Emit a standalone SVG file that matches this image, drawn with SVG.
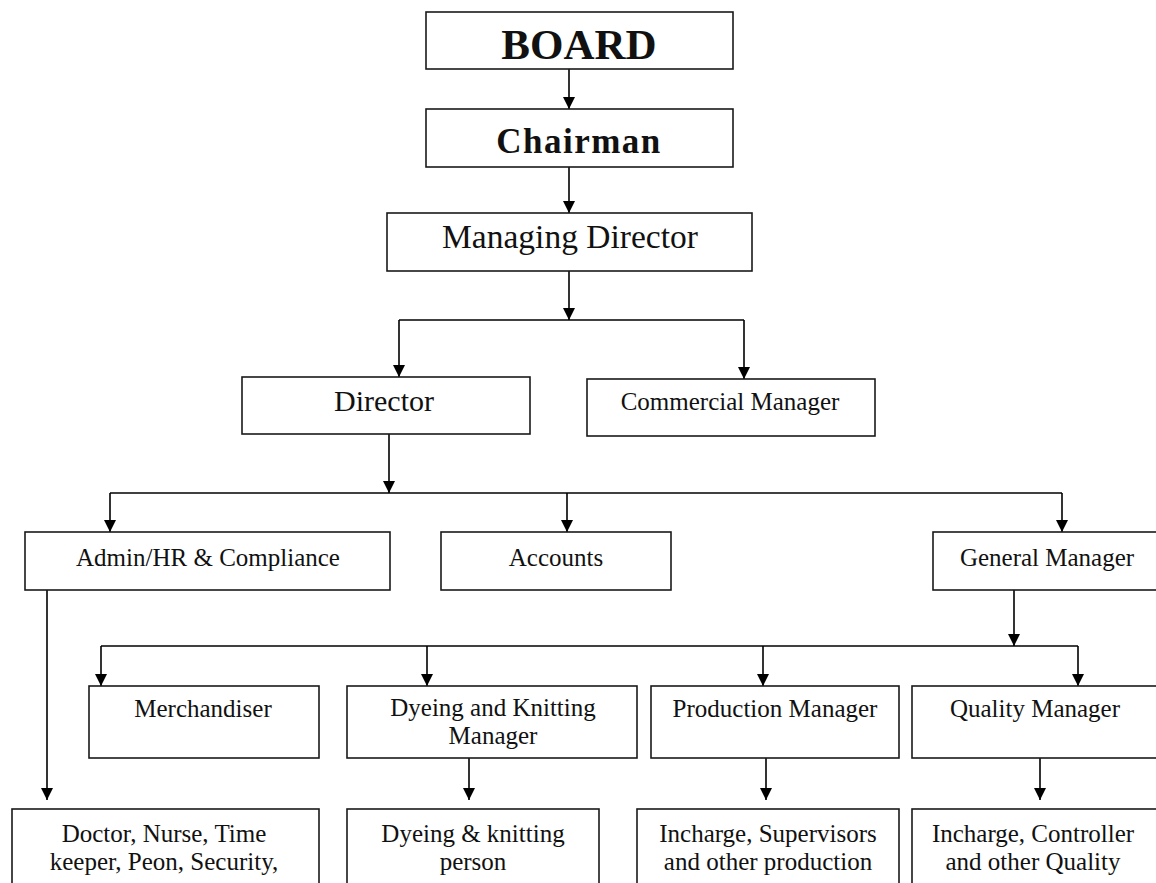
<svg xmlns="http://www.w3.org/2000/svg" width="1156" height="883" viewBox="0 0 1156 883">
<defs>
<marker id="arr" viewBox="0 0 12 12" refX="12" refY="6" markerWidth="12" markerHeight="12" orient="auto" markerUnits="userSpaceOnUse">
<path d="M0,0 L12,6 L0,12 z" fill="#000"/>
</marker>
<style>
.box{fill:#fff;stroke:#1a1a1a;stroke-width:1.6}
.t{font-family:"Liberation Serif","Times New Roman",serif;font-size:25px;fill:#111;text-anchor:middle}
.c{fill:none;stroke:#000;stroke-width:1.6}
.a{marker-end:url(#arr)}
</style>
</defs>
<rect width="1156" height="883" fill="#fff"/>
<g id="connectors">
<path class="c a" d="M569,69 V109"/>
<path class="c a" d="M569,167 V213"/>
<path class="c a" d="M569,271 V320"/>
<path class="c" d="M399,320 H744"/>
<path class="c a" d="M399,320 V377"/>
<path class="c a" d="M744,320 V379"/>
<path class="c a" d="M389,434 V493"/>
<path class="c" d="M110,493 H1062"/>
<path class="c a" d="M110,493 V532"/>
<path class="c a" d="M567,493 V532"/>
<path class="c a" d="M1062,493 V532"/>
<path class="c a" d="M47,590 V800"/>
<path class="c a" d="M1014,590 V646"/>
<path class="c" d="M101,646 H1078"/>
<path class="c a" d="M101,646 V686"/>
<path class="c a" d="M427,646 V686"/>
<path class="c a" d="M763,646 V686"/>
<path class="c a" d="M1078,646 V686"/>
<path class="c a" d="M469,758 V800"/>
<path class="c a" d="M766,758 V800"/>
<path class="c a" d="M1040,758 V800"/>
</g>
<g id="board"><rect class="box" x="426" y="12" width="307" height="57"/><text class="t" x="579" y="59" style="font-size:43px;font-weight:bold">BOARD</text></g>
<g id="chairman"><rect class="box" x="426" y="109" width="307" height="58"/><text class="t" x="579" y="153" style="font-size:35px;font-weight:bold;letter-spacing:1.5px">Chairman</text></g>
<g id="md"><rect class="box" x="387" y="213" width="365" height="58"/><text class="t" x="570" y="248" style="font-size:33.5px">Managing Director</text></g>
<g id="director"><rect class="box" x="242" y="377" width="288" height="57"/><text class="t" x="384" y="411" style="font-size:30px">Director</text></g>
<g id="commercial"><rect class="box" x="587" y="379" width="288" height="57"/><text class="t" x="730" y="410">Commercial Manager</text></g>
<g id="admin"><rect class="box" x="25" y="532" width="365" height="58"/><text class="t" x="208" y="566">Admin/HR &amp; Compliance</text></g>
<g id="accounts"><rect class="box" x="441" y="532" width="230" height="58"/><text class="t" x="556" y="566">Accounts</text></g>
<g id="gm"><rect class="box" x="933" y="532" width="232" height="58"/><text class="t" x="1047" y="566">General Manager</text></g>
<g id="merchandiser"><rect class="box" x="89" y="686" width="230" height="72"/><text class="t" x="203" y="717">Merchandiser</text></g>
<g id="dk-manager"><rect class="box" x="347" y="686" width="290" height="72"/><text class="t" x="493" y="716">Dyeing and Knitting</text><text class="t" x="493" y="744">Manager</text></g>
<g id="production"><rect class="box" x="651" y="686" width="248" height="72"/><text class="t" x="775" y="717">Production Manager</text></g>
<g id="quality"><rect class="box" x="912" y="686" width="252" height="72"/><text class="t" x="1035" y="717">Quality Manager</text></g>
<g id="staff"><rect class="box" x="12" y="809" width="307" height="90"/><text class="t" x="164" y="842">Doctor, Nurse, Time</text><text class="t" x="164" y="870">keeper, Peon, Security,</text></g>
<g id="dk-person"><rect class="box" x="347" y="809" width="252" height="90"/><text class="t" x="473" y="842">Dyeing &amp; knitting</text><text class="t" x="473" y="870">person</text></g>
<g id="prod-staff"><rect class="box" x="637" y="809" width="262" height="90"/><text class="t" x="768" y="842">Incharge, Supervisors</text><text class="t" x="768" y="870">and other production</text></g>
<g id="quality-staff"><rect class="box" x="912" y="809" width="252" height="90"/><text class="t" x="1033" y="842">Incharge, Controller</text><text class="t" x="1033" y="870">and other Quality</text></g>
</svg>
